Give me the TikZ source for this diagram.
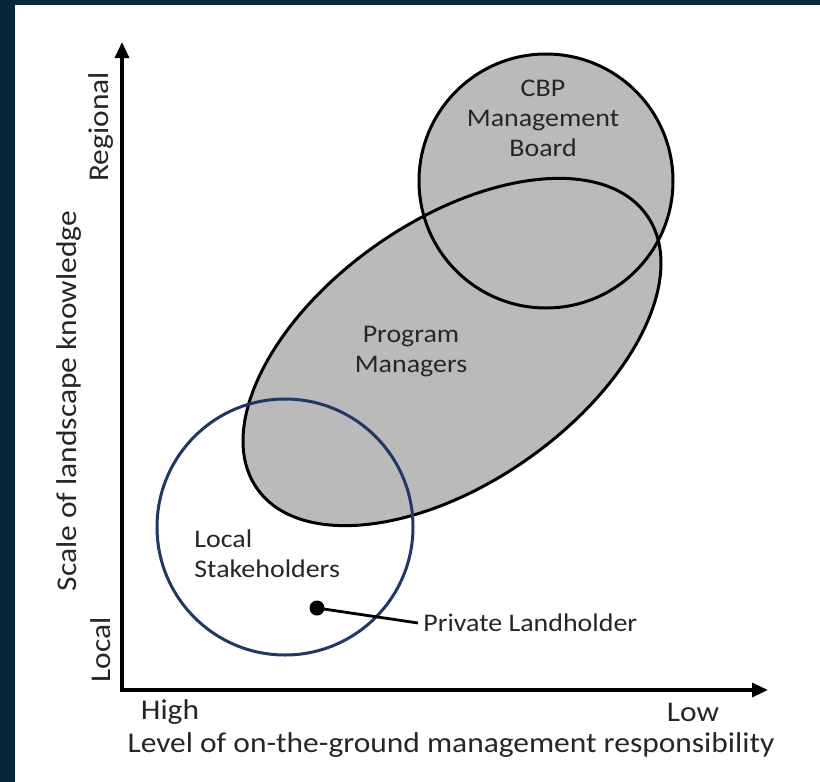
\documentclass[tikz,border=0pt]{standalone}
\usepackage{fontspec}
\setmainfont{Carlito}[FakeStretch=1.1]
\usetikzlibrary{arrows.meta}
\definecolor{frame}{RGB}{8,40,58}
\definecolor{navy}{RGB}{31,56,100}
\definecolor{groupfill}{RGB}{186,186,186}
\definecolor{ink}{RGB}{38,38,38}
\tikzset{
    lbl/.style={text=ink, inner sep=0pt, font=\fontsize{14.3pt}{15pt}\selectfont},
    grouplbl/.style={lbl, font=\fontsize{12.7pt}{15pt}\selectfont},
    outline/.style={black, line width=1.5pt},
    axis/.style={black, line width=1.6pt, -{Triangle[length=8pt,width=7pt]}}
}
\begin{document}
\begin{tikzpicture}[x=0.5pt, y=-0.5pt]
        \useasboundingbox (0,0) rectangle (820,782);
        \fill[white] (0,0) rectangle (820,782);
        \fill[frame] (0,0) rectangle (820,5);
        \fill[frame] (0,0) rectangle (15,782);
        % fills first, outlines on top
        \fill[groupfill, rotate around={35:(452,352)}] (452,352) ellipse [x radius=238, y radius=131];
        \fill[groupfill] (546,181) circle (127);
        \draw[outline, rotate around={35:(452,352)}] (452,352) ellipse [x radius=238, y radius=131];
        \draw[outline] (546,181) circle (127);
        \draw[navy, line width=1.5pt] (285,527) circle (128);
        % axes
        \coordinate (origin) at (122,690);
        \coordinate (ytip) at (122,42);
        \coordinate (xtip) at (768,690);
        \draw[axis] ([yshift=-0.8pt]origin) -- (ytip);
        \draw[axis] ([xshift=-0.8pt]origin) -- (xtip);
        \node[lbl, rotate=90] (regional) at (101,127) {Regional};
        \node[lbl, rotate=90] (local) at (101,650) {Local};
        \node[lbl, rotate=90] (yname) at (69,401) {Scale of landscape knowledge};
        \node[lbl] (high) at (170,712) {High};
        \node[lbl] (low) at (693,712) {Low};
        \node[lbl] (xname) at (451,745) {Level of on-the-ground management responsibility};
        % group names
        \node[grouplbl, align=center] (board) at (543,118) {CBP\\Management\\Board};
        \node[grouplbl, align=center] (managers) at (411,352) {Program\\Managers};
        \node[grouplbl, align=left, anchor=west] (stakeholders) at (194,554) {Local\\Stakeholders};
        \node[grouplbl, anchor=west] (landholder) at (423,623) {Private Landholder};
        \coordinate (holder) at (317,608);
        \draw[black, line width=1.4pt] (holder) -- ([xshift=-2.5pt]landholder.west);
        \fill[black] (holder) circle (7.5);
    \end{tikzpicture}
\end{document}
